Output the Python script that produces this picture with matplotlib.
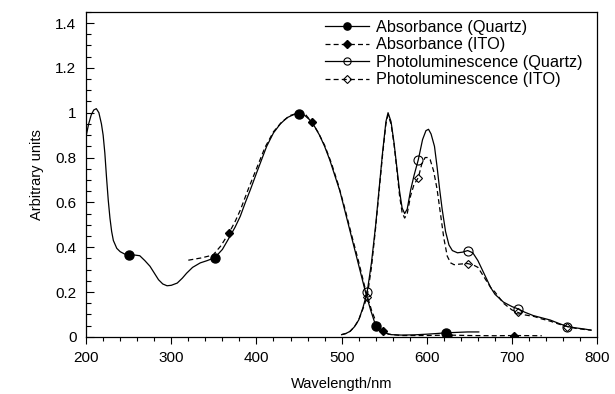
import matplotlib
matplotlib.use("Agg")
import matplotlib.pyplot as plt
from matplotlib.ticker import MultipleLocator, FormatStrFormatter

plt.rcParams['font.family'] = ['Liberation Sans', 'DejaVu Sans']

# absorbance on quartz (solid, filled circles)
abs_q_x = [200, 203, 206, 209, 212, 215, 218, 220, 222, 224, 226, 228, 230, 232, 236,
           240, 245, 250, 257, 263, 269, 275, 280, 285, 290, 295, 300, 307, 313, 318,
           325, 334, 342, 351, 360, 369, 375, 381, 387, 393, 400, 406, 412, 420, 428,
           436, 444, 450, 456, 462, 468, 474, 480, 486, 492, 498, 504, 510, 516, 522,
           528, 534, 540, 545, 550, 558, 570, 585, 600, 612, 622, 635, 648, 661]
abs_q_y = [0.895, 0.95, 0.99, 1.012, 1.018, 1.0, 0.95, 0.9, 0.82, 0.71, 0.61, 0.53, 0.47, 0.43, 0.395,
           0.38, 0.37, 0.363, 0.365, 0.362, 0.34, 0.315, 0.285, 0.255, 0.236, 0.228, 0.23, 0.24, 0.262, 0.284,
           0.31, 0.33, 0.34, 0.353, 0.39, 0.449, 0.49, 0.538, 0.6, 0.658, 0.73, 0.79, 0.85, 0.91, 0.95,
           0.978, 0.992, 0.995, 0.99, 0.97, 0.94, 0.9, 0.85, 0.79, 0.72, 0.65, 0.56, 0.47, 0.38, 0.29,
           0.2, 0.12, 0.05, 0.03, 0.018, 0.01, 0.008, 0.009, 0.012, 0.015, 0.018, 0.02, 0.022, 0.022]
abs_q_marks = [250, 351, 450, 540, 622]

# absorbance on ITO (dashed, filled diamonds)
abs_i_x = [320, 335, 349, 358, 368, 375, 381, 391, 400, 410, 420, 430, 440, 450, 458,
           465, 472, 480, 488, 496, 504, 512, 520, 528, 535, 541, 548, 555, 570, 600,
           625, 650, 680, 702, 735]
abs_i_y = [0.342, 0.352, 0.365, 0.405, 0.465, 0.515, 0.565, 0.665, 0.75, 0.845, 0.915, 0.96, 0.988, 1.0, 0.99,
           0.958, 0.915, 0.855, 0.775, 0.68, 0.57, 0.45, 0.335, 0.21, 0.12, 0.06, 0.027, 0.012, 0.006, 0.006,
           0.008, 0.006, 0.005, 0.006, 0.005]
abs_i_marks = [368, 465, 548, 625, 702]

# photoluminescence on quartz (solid, open circles)
pl_q_x = [500, 505, 510, 515, 520, 525, 530, 535, 540, 544, 548, 552, 554.5, 558, 561.5,
          565, 568, 571, 574, 577, 581, 585, 590, 595, 599, 602, 605, 609, 612, 615,
          618, 622, 626, 630, 636, 642, 648, 654, 660, 665, 670, 675, 680, 690, 700,
          707, 715, 725, 735, 745, 755, 765, 775, 785, 793]
pl_q_y = [0.01, 0.015, 0.025, 0.045, 0.075, 0.13, 0.2, 0.33, 0.5, 0.66, 0.82, 0.96, 1.0, 0.96, 0.866,
          0.75, 0.65, 0.575, 0.55, 0.57, 0.655, 0.72, 0.79, 0.88, 0.92, 0.926, 0.905, 0.85, 0.76, 0.66,
          0.57, 0.47, 0.41, 0.385, 0.375, 0.378, 0.385, 0.375, 0.34, 0.3, 0.26, 0.22, 0.19, 0.155, 0.135,
          0.125, 0.11, 0.095, 0.085, 0.075, 0.06, 0.046, 0.04, 0.035, 0.03]
pl_q_marks = [530, 590, 648, 707, 765]

# photoluminescence on ITO (dashed, open diamonds)
pl_i_x = [500, 505, 510, 515, 520, 525, 530, 535, 540, 544, 548, 552, 554.5, 558, 561.5,
          565, 568, 571, 574, 577, 581, 585, 590, 594, 598, 601, 604, 608, 612, 616,
          620, 624, 628, 632, 640, 648, 655, 660, 665, 670, 675, 680, 690, 700, 707,
          715, 726, 735, 745, 755, 765, 775, 785, 793]
pl_i_y = [0.01, 0.015, 0.025, 0.045, 0.075, 0.125, 0.18, 0.31, 0.49, 0.65, 0.81, 0.95, 0.99, 0.95, 0.86,
          0.74, 0.63, 0.555, 0.53, 0.55, 0.63, 0.68, 0.71, 0.77, 0.8, 0.8, 0.79, 0.74, 0.66, 0.55,
          0.44, 0.36, 0.33, 0.322, 0.325, 0.327, 0.32, 0.31, 0.28, 0.25, 0.22, 0.2, 0.15, 0.12, 0.109,
          0.098, 0.091, 0.08, 0.07, 0.057, 0.046, 0.038, 0.033, 0.03]
pl_i_marks = [530, 590, 648, 707, 765]

labels = ['Absorbance (Quartz)', 'Absorbance (ITO)',
          'Photoluminescence (Quartz)', 'Photoluminescence (ITO)']


def mark_idx(xs, marks):
    return [xs.index(m) for m in marks]


fig = plt.figure(figsize=(6.15, 3.94), dpi=100)
ax = fig.add_axes([0.140, 0.145, 0.831, 0.825])

dash = (0, (4, 2.5))
ax.plot(abs_q_x, abs_q_y, color='black', lw=0.9, marker='o', ms=6.5,
        markevery=mark_idx(abs_q_x, abs_q_marks), label=labels[0])
ax.plot(abs_i_x, abs_i_y, color='black', lw=0.9, ls=dash, marker='D', ms=4.5,
        markevery=mark_idx(abs_i_x, abs_i_marks), label=labels[1])
ax.plot(pl_q_x, pl_q_y, color='black', lw=0.9, marker='o', ms=6.5, mfc='none', mew=0.8,
        markevery=mark_idx(pl_q_x, pl_q_marks), label=labels[2])
ax.plot(pl_i_x, pl_i_y, color='black', lw=0.9, ls=dash, marker='D', ms=4.5, mfc='none', mew=0.8,
        markevery=mark_idx(pl_i_x, pl_i_marks), label=labels[3])

ax.set_xlim(200, 800)
ax.set_ylim(0, 1.45)
ax.xaxis.set_major_locator(MultipleLocator(100))
ax.xaxis.set_minor_locator(MultipleLocator(20))
ax.yaxis.set_major_locator(MultipleLocator(0.2))
ax.yaxis.set_minor_locator(MultipleLocator(0.05))
ax.yaxis.set_major_formatter(FormatStrFormatter('%g'))

ax.tick_params(axis='x', which='major', direction='out', length=5, width=0.8, labelsize=11, pad=5)
ax.tick_params(axis='x', which='minor', direction='out', length=3, width=0.8)
ax.tick_params(axis='y', which='major', direction='in', length=6, width=0.8, labelsize=11, pad=7)
ax.tick_params(axis='y', which='minor', direction='in', length=3.5, width=0.8)
for s in ax.spines.values():
    s.set_linewidth(0.9)

ax.set_xlabel('Wavelength/nm', fontsize=10.5, labelpad=9)
ax.set_ylabel('Arbitrary units', fontsize=10.5, labelpad=8)

ax.legend(loc='upper left', bbox_to_anchor=(0.468, 0.975), frameon=False, fontsize=11.7,
          numpoints=1, handlelength=2.7, handletextpad=0.4, labelspacing=0.15, borderpad=0,
          borderaxespad=0, markerscale=0.8)

fig.savefig('out.png', dpi=100)
